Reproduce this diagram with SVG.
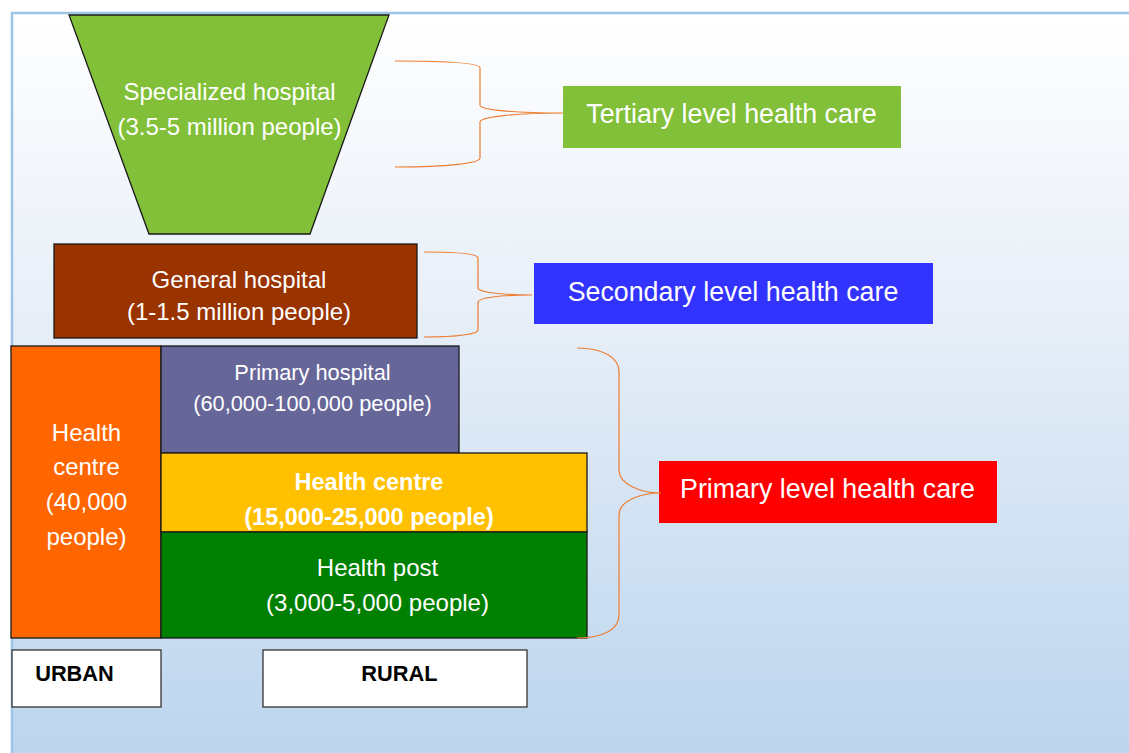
<svg xmlns="http://www.w3.org/2000/svg" width="1129" height="753" viewBox="0 0 1129 753">
<defs>
<linearGradient id="bg" gradientUnits="userSpaceOnUse" x1="0" y1="13" x2="0" y2="753">
<stop offset="0" stop-color="#FFFFFF"/>
<stop offset="0.4" stop-color="#E8EFF8"/>
<stop offset="1" stop-color="#BCD5EE"/>
</linearGradient>
<style>
text{font-family:"Liberation Sans",Arial,sans-serif;fill:#FFFFFF;text-anchor:middle}
.box{stroke:#1a1a1a;stroke-width:1.3}
.lbl{font-size:26.8px}
.node{font-size:24px}
.brace{fill:none;stroke:#ED7D31;stroke-width:1.2}
.tag{fill:#FFFFFF;stroke:#333333;stroke-width:1.3}
.tagt{fill:#000000;font-weight:bold;font-size:21.8px}
</style>
</defs>
<rect x="0" y="0" width="1129" height="753" fill="#FFFFFF"/>
<rect x="12" y="13" width="1130" height="760" fill="url(#bg)" stroke="#9DC3E6" stroke-width="2.5"/>

<g id="specialized">
<polygon class="box" points="69,15 389,15 310,234 149,234" fill="#82C03A" stroke-width="1.6"/>
<text class="node" x="229.5" y="100" font-size="23.5">Specialized hospital</text>
<text class="node" x="229.5" y="135">(3.5-5 million people)</text>
</g>

<g id="tertiary">
<rect x="563" y="86" width="338" height="62" fill="#82C03A"/>
<text class="lbl" x="731.5" y="123">Tertiary level health care</text>
</g>

<g id="general">
<rect class="box" x="54" y="244" width="363" height="94" fill="#993300"/>
<text class="node" x="239" y="288">General hospital</text>
<text class="node" x="239" y="320">(1-1.5 million people)</text>
</g>

<g id="secondary">
<rect x="534" y="263" width="399" height="61" fill="#3333FF"/>
<text class="lbl" x="733" y="301">Secondary level health care</text>
</g>

<g id="urban-health-centre">
<rect class="box" x="11" y="346" width="150" height="292" fill="#FF6600"/>
<text class="node" x="86.5" y="441" font-size="23.5">Health</text>
<text class="node" x="86.5" y="475" font-size="23.5">centre</text>
<text class="node" x="86.5" y="510" font-size="23.5">(40,000</text>
<text class="node" x="86.5" y="545" font-size="23.5">people)</text>
</g>

<g id="primary-hospital">
<rect class="box" x="161" y="346" width="298" height="107" fill="#666699"/>
<text x="312.5" y="380" font-size="21.8">Primary hospital</text>
<text x="312.5" y="411" font-size="21.8">(60,000-100,000 people)</text>
</g>

<g id="rural-health-centre">
<rect class="box" x="161" y="453" width="426" height="79" fill="#FFC000"/>
<text x="369" y="490" font-size="23.5" font-weight="bold">Health centre</text>
<text x="369" y="525" font-size="23.5" font-weight="bold">(15,000-25,000 people)</text>
</g>

<g id="health-post">
<rect class="box" x="161" y="532" width="426" height="106" fill="#008000"/>
<text x="377.5" y="576" font-size="24">Health post</text>
<text x="377.5" y="611" font-size="24">(3,000-5,000 people)</text>
</g>

<g id="primary">
<rect x="659" y="461" width="338" height="62" fill="#FF0000"/>
<text class="lbl" x="827.5" y="498">Primary level health care</text>
</g>

<g id="urban">
<rect class="tag" x="12" y="650" width="149" height="57"/>
<text class="tagt" x="74.5" y="681">URBAN</text>
</g>

<g id="rural">
<rect class="tag" x="263" y="650" width="264" height="57"/>
<text class="tagt" x="399.5" y="681">RURAL</text>
</g>

<g id="connectors">
<path class="brace" d="M395,61 C450,61 480,63 480,68 L480,105 C480,110 515,113 563,113 C515,113 480,117 480,122 L480,158 C480,163 450,167 395,167"/>
<path class="brace" d="M424,252 C458,252 478,254 478,258 L478,288 C478,292 500,295 532,295 C500,295 478,298 478,302 L478,330 C478,334 458,337 424,337"/>
<path class="brace" d="M577,348 C604,348 619,358 619,372 L619,470 C619,484 640,493 661,493 C640,493 619,501 619,515 L619,615 C619,629 604,638 577,638"/>
</g>
</svg>
